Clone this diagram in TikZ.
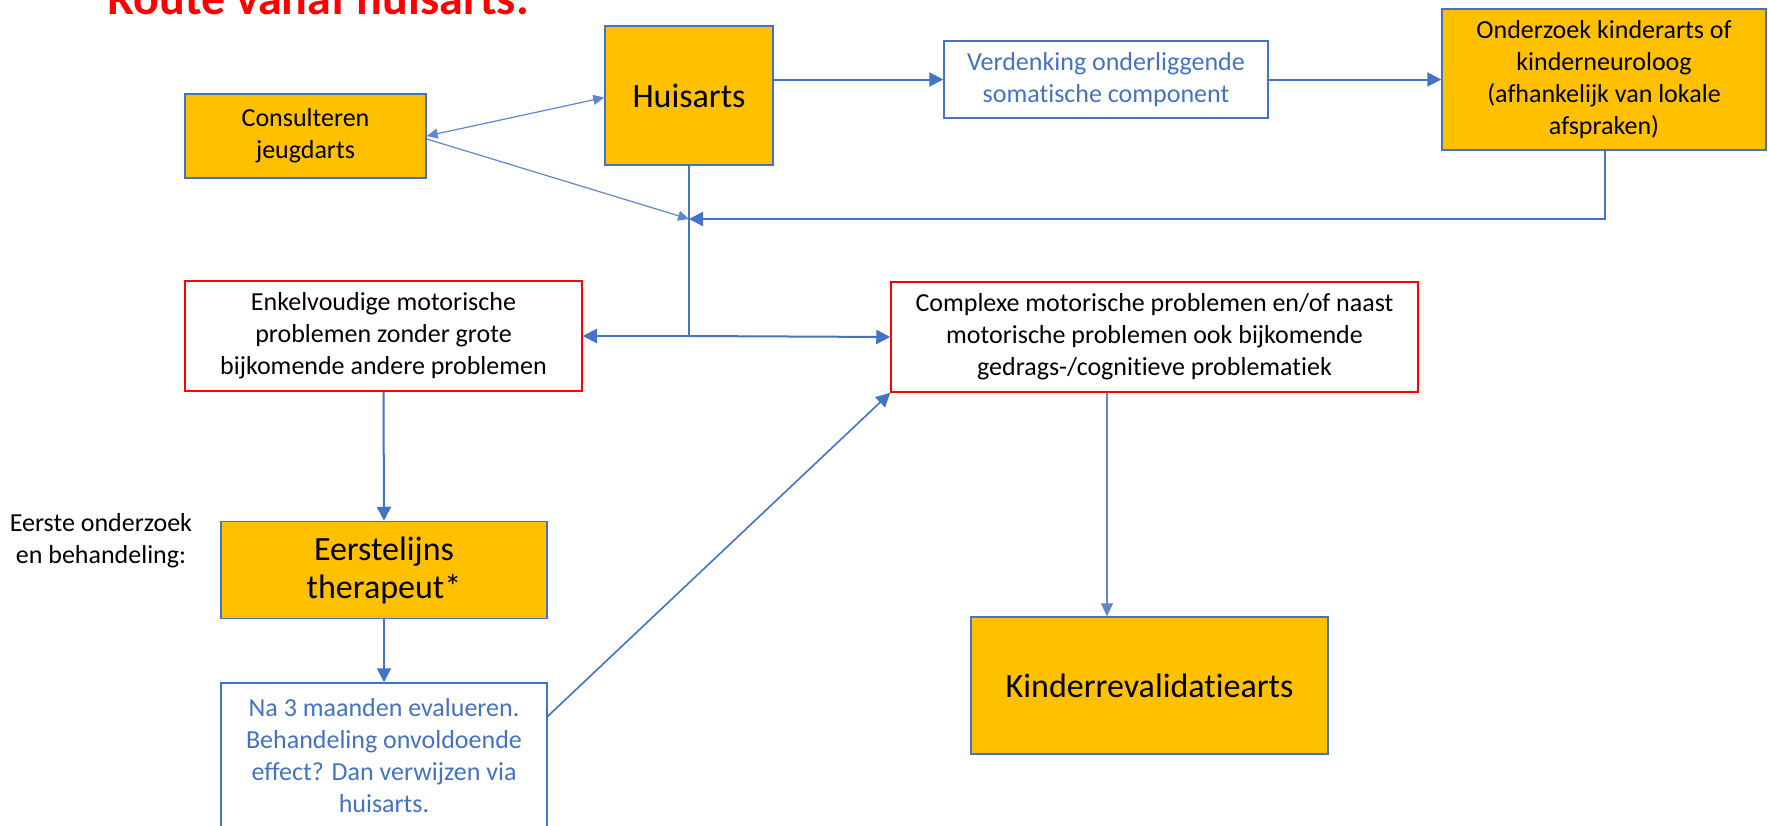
\documentclass[tikz,border=0pt]{standalone}
\usepackage{fontspec}
\setmainfont{Carlito}[Ligatures=NoCommon]
\usetikzlibrary{arrows.meta,calc}
\definecolor{obox}{HTML}{FFC000}
\definecolor{bblue}{HTML}{4472C4}
\definecolor{rred}{HTML}{FF0000}
\tikzset{
  basebox/.style={rectangle, inner sep=0pt, align=center, line width=1.5pt},
  orangebox/.style={basebox, fill=obox, draw=bblue, text=black},
  redbox/.style={basebox, fill=white, draw=rred, text=black},
  bluebox/.style={basebox, fill=white, draw=bblue, text=bblue},
  txt/.style={font=\fontsize{26}{32}\selectfont},
  bigtxt/.style={font=\fontsize{34}{38}\selectfont},
  conn/.style={draw=bblue, line width=2pt, -{Triangle[length=14pt,width=14pt]}},
  thinconn/.style={draw=bblue!85, line width=1.2pt, -{Triangle[length=11pt,width=10pt]}},
  plainline/.style={draw=bblue, line width=1.6pt},
}
\begin{document}
\begin{tikzpicture}[x=1pt,y=-1pt]
\useasboundingbox (0,0) rectangle (1768,825);
\clip (0,0) rectangle (1768,825);
\fill[white] (0,0) rectangle (1768,825);

% title
\node[anchor=base west, inner sep=0pt, text=rred, font=\fontsize{48}{58}\selectfont\bfseries] (title) at (107,14) {Route vanaf huisarts.};

% nodes
\node[orangebox, txt, minimum width=241, minimum height=84] (cons) at (305.5,136) {Consulteren\\jeugdarts};
\node[orangebox, bigtxt, minimum width=168, minimum height=139] (huis) at (689,95.5) {Huisarts};
\node[bluebox, txt, minimum width=324, minimum height=77] (verd) at (1106,79.5) {Verdenking onderliggende\\somatische component};
\node[orangebox, txt, minimum width=324, minimum height=141] (onder) at (1604,79.5) {Onderzoek kinderarts of\\kinderneuroloog\\(afhankelijk van lokale\\afspraken)};
\node[redbox, txt, minimum width=397, minimum height=110] (enkel) at (383.5,336) {Enkelvoudige motorische\\problemen zonder grote\\bijkomende andere problemen};
\node[redbox, txt, minimum width=527, minimum height=110] (compl) at (1154.5,337) {Complexe motorische problemen en/of naast\\motorische problemen ook bijkomende\\gedrags-/cognitieve problematiek};
\node[orangebox, bigtxt, minimum width=326, minimum height=97] (eerst) at (384,570) {Eerstelijns\\therapeut*};
\node[bluebox, txt, minimum width=326, minimum height=146] (na) at (384,756) {Na 3 maanden evalueren.\\Behandeling onvoldoende\\effect? Dan verwijzen via\\huisarts.};
\node[orangebox, bigtxt, minimum width=357, minimum height=137] (kind) at (1149.5,685.5) {Kinderrevalidatiearts};
\node[txt, align=center, inner sep=0pt, text=black] (lbl) at (101,541) {Eerste onderzoek\\en behandeling:};

% junctions
\coordinate (j1) at (689,219);
\coordinate (j2) at (689,336);
\coordinate (c1) at (1605,219);
\coordinate (kx) at (1107,0);

% connectors
\draw[thinconn, {Triangle[length=11pt,width=10pt]}-{Triangle[length=11pt,width=10pt]}] (cons.east) -- ($(huis.west)+(0,2)$);
\draw[thinconn] ($(cons.east)+(0,3)$) -- (j1);
\draw[plainline] (huis.south) -- (j2);
\draw[conn] (j2) -- (enkel.east);
\draw[conn] (j2) -- (compl.west);
\draw[conn] (huis.east |- verd.west) -- (verd.west);
\draw[conn] (verd.east) -- (verd.east -| onder.west);
\draw[conn] (onder.south -| c1) -- (c1) -- (j1);
\draw[conn] (enkel.south) -- (eerst.north);
\draw[conn] (eerst.south) -- (na.north);
\draw[conn, line width=1.6pt] ($(na.north east)+(0,34)$) -- (compl.south west);
\draw[thinconn, -{Triangle[length=13pt,width=12pt]}] (kx |- compl.south) -- (kx |- kind.north);
\end{tikzpicture}
\end{document}
